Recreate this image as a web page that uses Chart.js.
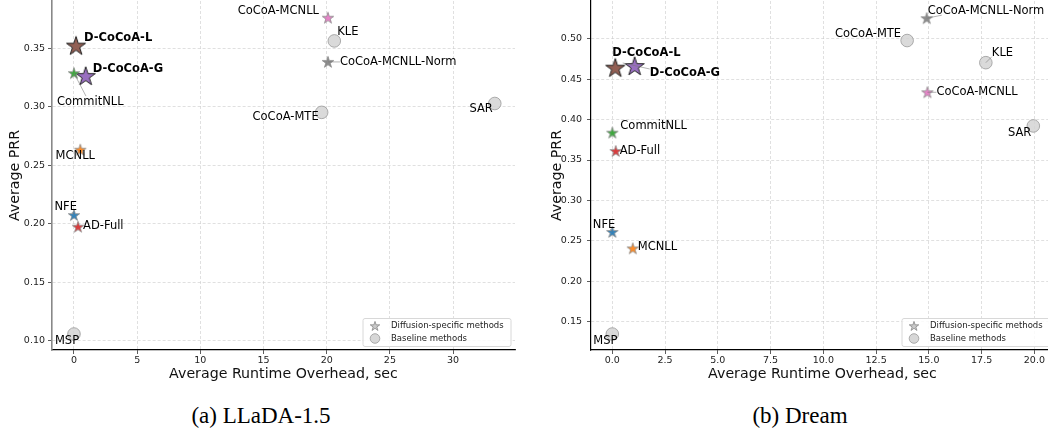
<!DOCTYPE html>
<html><head><meta charset="utf-8">
<script src="https://cdn.jsdelivr.net/npm/chart.js@4"></script>
<style>
html,body{margin:0;padding:0;background:#fff;overflow:hidden;width:1048px;height:429px;position:relative}
canvas{position:absolute;top:0}
.cap{position:absolute;top:401px;height:30px;line-height:30px;font-family:'Liberation Serif','DejaVu Serif',serif;font-size:23px;color:#000;text-align:center}
</style></head><body>
<canvas id="ca" width="524" height="390" style="left:0"></canvas>
<canvas id="cb" width="530" height="390" style="left:530px"></canvas>
<div class="cap" style="left:160px;width:202px">(a) LLaDA-1.5</div>
<div class="cap" style="left:700px;width:200px">(b) Dream</div>
<script>
// ---------- DATA ----------
const starMethods = ['D-CoCoA-L','D-CoCoA-G','CommitNLL','MCNLL','NFE','AD-Full','CoCoA-MCNLL','CoCoA-MCNLL-Norm'];
const baseMethods = ['KLE','CoCoA-MTE','SAR','MSP'];

const lladaStarRuntime = [0.16, 0.93, 0.0, 0.5, 0.0, 0.32, 20.1, 20.1];
const lladaStarPRR     = [0.3526, 0.3266, 0.329, 0.2634, 0.2074, 0.1974, 0.3765, 0.3386];
const lladaBaseRuntime = [20.6, 19.6, 33.3, 0.0];
const lladaBasePRR     = [0.3566, 0.2954, 0.303, 0.1055];

const dreamStarRuntime = [0.14, 1.06, 0.0, 0.97, 0.0, 0.16, 14.93, 14.9];
const dreamStarPRR     = [0.4644, 0.4665, 0.3839, 0.2405, 0.2608, 0.3611, 0.4339, 0.5257];
const dreamBaseRuntime = [17.7, 13.97, 19.95, 0.0];
const dreamBasePRR     = [0.4706, 0.498, 0.3922, 0.1344];

const lladaXTicks = [0, 5, 10, 15, 20, 25, 30];
const lladaYTicks = [0.10, 0.15, 0.20, 0.25, 0.30, 0.35];
const dreamXTicks = [0, 2.5, 5, 7.5, 10, 12.5, 15, 17.5, 20];
const dreamYTicks = [0.15, 0.20, 0.25, 0.30, 0.35, 0.40, 0.45, 0.50];

const xTitle = 'Average Runtime Overhead, sec';
const yTitle = 'Average PRR';
const legendLabels = ['Diffusion-specific methods', 'Baseline methods'];

// ---------- STYLE ----------
const FONT = "'DejaVu Sans', sans-serif";
const starColors = {
  'D-CoCoA-L':'#8c564b','D-CoCoA-G':'#9467bd','CommitNLL':'#2ca02c','MCNLL':'#ff7f0e',
  'NFE':'#1f77b4','AD-Full':'#d62728','CoCoA-MCNLL':'#e377c2','CoCoA-MCNLL-Norm':'#7f7f7f'
};
const bigStars = ['D-CoCoA-L','D-CoCoA-G'];

function starImg(R, fill, alpha, stroke, lw){
  const pad = 2, s = Math.ceil(2*R + 2*pad);
  const c = document.createElement('canvas'); c.width = s; c.height = s;
  const g = c.getContext('2d');
  const cx = s/2, cy = s/2 + R*0.08, r = R*0.382;
  g.beginPath();
  for (let i=0;i<10;i++){
    const a = -Math.PI/2 + i*Math.PI/5, rr = (i%2) ? r : R;
    g.lineTo(cx + rr*Math.cos(a), cy + rr*Math.sin(a));
  }
  g.closePath();
  g.globalAlpha = alpha; g.fillStyle = fill; g.fill();
  g.globalAlpha = 1; g.strokeStyle = stroke; g.lineWidth = lw; g.lineJoin='miter'; g.stroke();
  return c;
}
const starImgs = starMethods.map(m => bigStars.includes(m)
  ? starImg(10, starColors[m], 0.95, '#222', 1.0)
  : starImg(6, starColors[m], 0.9, '#888', 0.8));

// label layout: [dx, dy, align, leader([x1,y1,x2,y2]) or null]
const lladaLabels = {
  'CoCoA-MCNLL':[-9,-7,'right',null],
  'KLE':[3,-9,'left',null],
  'CoCoA-MCNLL-Norm':[12,0,'left',[0,0,12,0]],
  'D-CoCoA-L':[8,-8,'left',null],
  'D-CoCoA-G':[7,-7,'left',null],
  'CommitNLL':[-17,29,'left',[0,0,12,23]],
  'CoCoA-MTE':[-3,5,'right',null],
  'SAR':[-2,6,'right',null],
  'MCNLL':[-5,6,'center',null],
  'NFE':[3,-8,'right',[-2,-3,0,0]],
  'AD-Full':[5,-1,'left',null],
  'MSP':[-7,7,'center',null]
};
const dreamLabels = {
  'CoCoA-MCNLL-Norm':[1,-7,'left',[0,0,15,-3]],
  'CoCoA-MTE':[-6,-7,'right',null],
  'KLE':[6,-10,'left',[0,0,6,-6]],
  'CoCoA-MCNLL':[9,0,'left',[0,0,9,0]],
  'SAR':[-2,7,'right',null],
  'D-CoCoA-L':[-3,-15,'left',null],
  'D-CoCoA-G':[15,7,'left',[-12,-3,15,3]],
  'CommitNLL':[8,-7,'left',null],
  'AD-Full':[4,0,'left',null],
  'NFE':[3,-7,'right',[-2,-3,0,0]],
  'MCNLL':[5,-1,'left',null],
  'MSP':[-7,7,'center',null]
};

const labelPlugin = {
  id:'pointLabels',
  afterDatasetsDraw(chart, args, opts){
    const ctx = chart.ctx, L = opts.layout;
    const xs = chart.scales.x, ys = chart.scales.y;
    ctx.save();
    chart.data.datasets.forEach(ds => {
      ds.data.forEach(p => {
        const spec = L[p.name]; if (!spec) return;
        const px = xs.getPixelForValue(p.x), py = ys.getPixelForValue(p.y);
        if (spec[3]) {
          const l = spec[3];
          ctx.strokeStyle = 'rgba(120,120,120,0.7)'; ctx.lineWidth = 0.8;
          ctx.beginPath(); ctx.moveTo(px+l[0], py+l[1]); ctx.lineTo(px+l[2], py+l[3]); ctx.stroke();
        }
      });
    });
    chart.data.datasets.forEach(ds => {
      ds.data.forEach(p => {
        const spec = L[p.name]; if (!spec) return;
        const px = xs.getPixelForValue(p.x), py = ys.getPixelForValue(p.y);
        const bold = bigStars.includes(p.name);
        ctx.font = (bold ? 'bold ' : '') + '11.5px ' + FONT;
        ctx.fillStyle = '#000'; ctx.textAlign = spec[2]; ctx.textBaseline = 'middle';
        ctx.fillText(p.name, px + spec[0], py + spec[1]);
      });
    });
    ctx.restore();
  }
};

const legendPlugin = {
  id:'innerLegend',
  afterDraw(chart){
    const ctx = chart.ctx, a = chart.chartArea;
    const w = 148, h = 28;
    const x0 = a.right - 4.5 - w, y0 = a.bottom - 4 - h;
    ctx.save();
    ctx.fillStyle = 'rgba(255,255,255,0.85)'; ctx.strokeStyle = '#d8d8d8'; ctx.lineWidth = 1;
    ctx.beginPath(); ctx.roundRect(x0+0.5, y0+0.5, w, h, 2); ctx.fill(); ctx.stroke();
    const star = starImg(5, '#bbbbbb', 0.8, '#888', 0.8);
    ctx.drawImage(star, x0 + 12.5 - star.width/2, y0 + 8 - star.height/2);
    ctx.beginPath(); ctx.arc(x0 + 12.5, y0 + 20.5, 4.8, 0, Math.PI*2);
    ctx.fillStyle = 'rgba(211,211,211,0.9)'; ctx.fill();
    ctx.strokeStyle = '#999'; ctx.lineWidth = 0.8; ctx.stroke();
    ctx.font = '8.5px ' + FONT; ctx.fillStyle = '#222'; ctx.textAlign = 'left'; ctx.textBaseline = 'middle';
    ctx.fillText(legendLabels[0], x0 + 28.5, y0 + 8);
    ctx.fillText(legendLabels[1], x0 + 28.5, y0 + 20.5);
    ctx.restore();
  }
};

function makeChart(id, sx, sy, bx, by, xTicks, yTicks, xmin, xmax, ymin, ymax, xDec, layoutLabels, pad, yBorder){
  const starData = starMethods.map((m,i) => ({x: sx[i], y: sy[i], name: m}));
  const baseData = baseMethods.map((m,i) => ({x: bx[i], y: by[i], name: m}));
  const gridOpts = { color:'rgba(200,200,200,0.8)', lineWidth:0.7, tickLength:4,
                     tickColor:'#333', tickBorderDash:[], tickWidth:0.8 };
  return new Chart(document.getElementById(id), {
    type:'scatter',
    data:{ datasets:[
      { label: legendLabels[1], data: baseData, pointStyle:'circle', pointRadius:6.3,
        backgroundColor:'rgba(211,211,211,0.85)', borderColor:'#999', borderWidth:0.8, clip:false },
      { label: legendLabels[0], data: starData, pointStyle: c => starImgs[c.dataIndex],
        pointRadius:6, clip:false }
    ]},
    plugins:[labelPlugin, legendPlugin],
    options:{
      responsive:false, animation:false, events:[],
      layout:{ autoPadding:false, padding:{ left:0, top:1, right:pad.right, bottom:0 } },
      plugins:{ legend:{display:false}, tooltip:{enabled:false}, pointLabels:{layout: layoutLabels} },
      scales:{
        x:{ type:'linear', min:xmin, max:xmax,
          afterBuildTicks: s => { s.ticks = xTicks.map(v => ({value:v})); },
          afterFit: s => { s.height = 40; s.paddingLeft = 0; s.paddingRight = 0; },
          ticks:{ font:{family:FONT, size:9.5}, color:'#222', padding:1, maxRotation:0,
                  callback: v => Number(v).toFixed(xDec) },
          grid: gridOpts,
          border:{ display:true, color:'#000', width:1.2, dash:[3,2] },
          title:{ display:true, text:xTitle, font:{family:FONT, size:14.2}, color:'#111',
                  padding:{top:0, bottom:7.5} }
        },
        y:{ type:'linear', min:ymin, max:ymax,
          afterBuildTicks: s => { s.ticks = yTicks.map(v => ({value:v})); },
          afterFit: s => { s.width = pad.yw; s.paddingTop = 0; s.paddingBottom = 0; },
          ticks:{ font:{family:FONT, size:9.5}, color:'#222', padding:pad.tp,
                  callback: v => Number(v).toFixed(2) },
          grid: gridOpts,
          border:{ display:true, color:yBorder, width:pad.bw, dash:[3,2] },
          title:{ display:true, text:yTitle, font:{family:FONT, size:14.2}, color:'#111',
                  padding:{top:pad.yt, bottom:0} }
        }
      }
    }
  });
}

makeChart('ca', lladaStarRuntime, lladaStarPRR, lladaBaseRuntime, lladaBasePRR,
  lladaXTicks, lladaYTicks, -1.74, 34.9, 0.0918, 0.3908, 0, lladaLabels,
  {right:9, yw:52, tp:3, yt:7, bw:1.6}, '#888');
makeChart('cb', dreamStarRuntime, dreamStarPRR, dreamBaseRuntime, dreamBasePRR,
  dreamXTicks, dreamYTicks, -1.01, 20.93, 0.1146, 0.547, 1, dreamLabels,
  {right:6, yw:61, tp:5, yt:18.6, bw:1.2}, '#000');
</script>
</body></html>
